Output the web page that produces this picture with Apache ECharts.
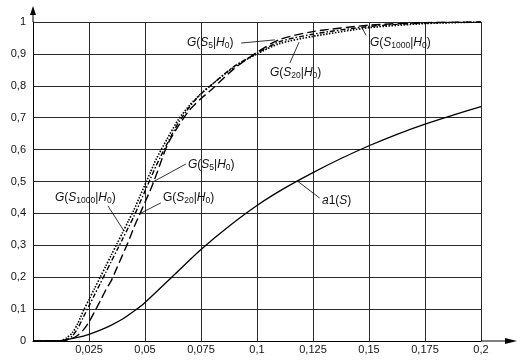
<!DOCTYPE html>
<html><head><meta charset="utf-8">
<script src="https://cdn.jsdelivr.net/npm/echarts@6/dist/echarts.min.js"></script>
<style>html,body{margin:0;padding:0;background:#fff}#c{width:525px;height:364px}</style>
</head><body><div id="c"></div>
<script>
// Shared S values for the three G curves
const gX = [0, 0.01, 0.0125, 0.015, 0.0175, 0.02, 0.0225, 0.025, 0.0275, 0.03, 0.0325, 0.035, 0.0375, 0.04, 0.0425, 0.045, 0.0475, 0.05, 0.0525, 0.055, 0.06, 0.065, 0.07, 0.075, 0.08, 0.09, 0.1, 0.11, 0.125, 0.15, 0.175, 0.2];
// G(S1000|H0) - dotted
const gS1000 = [0, 0, 0.001, 0.01, 0.025, 0.055, 0.095, 0.13, 0.165, 0.2, 0.235, 0.27, 0.305, 0.34, 0.375, 0.41, 0.45, 0.49, 0.53, 0.57, 0.635, 0.695, 0.74, 0.775, 0.805, 0.86, 0.9, 0.932, 0.955, 0.982, 0.995, 1.0];
// G(S20|H0) - dash-dot
const gS20 = [0, 0, 0, 0.005, 0.015, 0.04, 0.075, 0.11, 0.145, 0.18, 0.215, 0.25, 0.285, 0.32, 0.355, 0.39, 0.43, 0.47, 0.51, 0.55, 0.62, 0.685, 0.735, 0.775, 0.805, 0.862, 0.902, 0.938, 0.962, 0.986, 0.997, 1.0];
// G(S5|H0) - long dashes
const gS5 = [0, 0, 0, 0.003, 0.008, 0.018, 0.035, 0.06, 0.092, 0.125, 0.16, 0.19, 0.23, 0.27, 0.31, 0.355, 0.395, 0.435, 0.475, 0.52, 0.615, 0.675, 0.725, 0.76, 0.79, 0.855, 0.905, 0.945, 0.97, 0.99, 0.998, 1.0];
// a1(S) - solid
const aX = [0, 0.01, 0.0125, 0.015, 0.02, 0.025, 0.03, 0.035, 0.04, 0.045, 0.05, 0.0625, 0.075, 0.0875, 0.1, 0.1125, 0.125, 0.1375, 0.15, 0.1625, 0.175, 0.1875, 0.2];
const a1 = [0, 0, 0.001, 0.004, 0.011, 0.021, 0.034, 0.05, 0.069, 0.093, 0.121, 0.204, 0.287, 0.36, 0.425, 0.48, 0.528, 0.572, 0.612, 0.648, 0.68, 0.708, 0.735];

const xMin = 0, xMax = 0.2, xStep = 0.025;
const yMin = 0, yMax = 1, yStep = 0.1;

// Annotation labels (text, anchor in data coords, leader line in data coords)
const annText = [
  '{i|G}({i|S}{s|5}|{i|H}{s|0})',
  '{i|G}({i|S}{s|20}|{i|H}{s|0})',
  '{i|G}({i|S}{s|1000}|{i|H}{s|0})',
  '{i|G}({i|S}{s|5}|{i|H}{s|0})',
  '{i|G}({i|S}{s|1000}|{i|H}{s|0})',
  'G({i|S}{s|20}|{i|H}{s|0})',
  '{i|a}1({i|S})'
];
const annAt = [[0.0687,0.934],[0.1058,0.840],[0.1504,0.934],[0.0692,0.552],[0.0098,0.448],[0.058,0.448],[0.129,0.439]];
const annLeader = [
  [[0.0929,0.934],[0.108,0.944]],
  [[0.1147,0.872],[0.1188,0.937]],
  [[0.1487,0.958],[0.1469,0.982]],
  [[0.0683,0.555],[0.0531,0.497]],
  [[0.0335,0.423],[0.0406,0.345]],
  [[0.0571,0.433],[0.0482,0.401]],
  [[0.128,0.448],[0.1179,0.502]]
];

const comma = v => String(+v.toFixed(4)).replace('.', ',');
const font = "'Liberation Sans', Arial, sans-serif";

const chart = echarts.init(document.getElementById('c'), null, {renderer: 'canvas'});
const pair = (xs, ys) => xs.map((x, i) => [x, ys[i]]);
const lineSeries = (name, xs, ys, type, w) => ({
  name, type: 'line', data: pair(xs, ys), showSymbol: false, symbol: 'none',
  smooth: 0.25, silent: true,
  lineStyle: {color: '#000', width: w, type}
});

chart.setOption({
  animation: false,
  backgroundColor: '#fff',
  grid: {left: 33, right: 44, top: 22, bottom: 23, show: false},
  xAxis: {
    type: 'value', min: xMin, max: xMax, interval: xStep,
    axisLine: {show: true, onZero: false, lineStyle: {color: '#000', width: 1}},
    axisTick: {show: false},
    axisLabel: {color: '#111', fontSize: 11, fontFamily: font, margin: 3,
      formatter: v => v === 0 ? '' : comma(v)},
    splitLine: {show: true, lineStyle: {color: '#2a2a2a', width: 1}}
  },
  yAxis: {
    type: 'value', min: yMin, max: yMax, interval: yStep,
    axisLine: {show: true, onZero: false, lineStyle: {color: '#000', width: 1}},
    axisTick: {show: false},
    axisLabel: {color: '#111', fontSize: 11, fontFamily: font, margin: 7,
      formatter: v => comma(v)},
    splitLine: {show: true, lineStyle: {color: '#2a2a2a', width: 1}}
  },
  series: [
    lineSeries('a1(S)', aX, a1, 'solid', 1.3),
    lineSeries('G(S1000|H0)', gX, gS1000, [1.5, 1.5], 1.6),
    lineSeries('G(S20|H0)', gX, gS20, [5, 2, 1.5, 2], 1.4),
    lineSeries('G(S5|H0)', gX, gS5, [9, 4], 1.4)
  ]
});

function drawGraphics() {
  const px = p => chart.convertToPixel({gridIndex: 0}, p);
  const g = [];
  const rich = {
    i: {fontStyle: 'italic', fontSize: 12, fontFamily: font, fill: '#111', lineHeight: 15},
    s: {fontSize: 8.5, fontFamily: font, fill: '#111', lineHeight: 9, verticalAlign: 'bottom'}
  };
  annText.forEach((t, k) => {
    const p = px(annAt[k]);
    g.push({type: 'text', x: p[0], y: p[1], silent: true,
      style: {text: t, rich, fontSize: 12, fontFamily: font, fill: '#111', lineHeight: 15,
        align: 'left', verticalAlign: 'middle'}});
    const a = px(annLeader[k][0]), b = px(annLeader[k][1]);
    g.push({type: 'line', silent: true, shape: {x1: a[0], y1: a[1], x2: b[0], y2: b[1]},
      style: {stroke: '#000', lineWidth: 0.8}});
  });
  // axis arrows
  const top = px([xMin, yMax]), right = px([xMax, yMin]);
  g.push({type: 'line', silent: true, shape: {x1: top[0], y1: top[1], x2: top[0], y2: top[1] - 10}, style: {stroke: '#000', lineWidth: 1}});
  g.push({type: 'polygon', silent: true, shape: {points: [[top[0], top[1] - 16], [top[0] - 3, top[1] - 7], [top[0] + 3, top[1] - 7]]}, style: {fill: '#000'}});
  g.push({type: 'line', silent: true, shape: {x1: right[0], y1: right[1], x2: right[0] + 26, y2: right[1]}, style: {stroke: '#000', lineWidth: 1}});
  g.push({type: 'polygon', silent: true, shape: {points: [[right[0] + 36, right[1]], [right[0] + 24, right[1] - 3], [right[0] + 24, right[1] + 3]]}, style: {fill: '#000'}});
  chart.setOption({graphic: g});
}
drawGraphics();
</script>
</body></html>
